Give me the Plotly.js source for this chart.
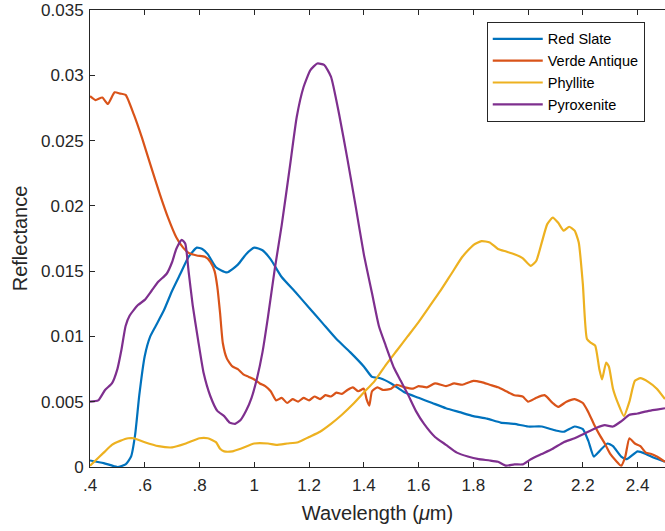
<!DOCTYPE html>
<html>
<head>
<meta charset="utf-8">
<script src="https://cdn.plot.ly/plotly-3.0.1.min.js"></script>
<style>
  html, body { margin: 0; padding: 0; background: #fff; }
  #chart { width: 665px; height: 531px; }
</style>
</head>
<body>
<div id="chart"></div>
<script>
// Reflectance spectra of four rock samples, wavelength in micrometres.
const seriesNames = ["Red Slate", "Verde Antique", "Phyllite", "Pyroxenite"];
const seriesColors = ["#0072BD", "#D95319", "#EDB120", "#7E2F8E"];

const wlRedSlate = [0.40,0.45,0.50,0.53,0.55,0.565,0.58,0.60,0.62,0.64,0.67,0.70,0.73,0.76,0.79,0.81,0.83,0.86,0.90,0.94,0.97,1.00,1.03,1.06,1.10,1.15,1.20,1.25,1.30,1.35,1.40,1.43,1.46,1.50,1.55,1.60,1.65,1.70,1.75,1.80,1.85,1.90,1.95,2.00,2.05,2.10,2.13,2.17,2.20,2.22,2.24,2.26,2.29,2.31,2.34,2.36,2.40,2.43,2.46,2.50];
const rRedSlate = [0.0005,0.0003,0.0000,0.0002,0.0008,0.0025,0.0055,0.0085,0.0100,0.0108,0.0120,0.0135,0.0148,0.0161,0.0168,0.0167,0.0163,0.0153,0.0149,0.0155,0.0163,0.0168,0.0166,0.0159,0.01455,0.0134,0.0122,0.0110,0.0098,0.0088,0.0077,0.0069,0.0068,0.0064,0.0057,0.0053,0.0049,0.0045,0.0042,0.0039,0.0037,0.0034,0.0033,0.0031,0.0031,0.0028,0.0027,0.0031,0.0029,0.0020,0.0008,0.0012,0.0018,0.0016,0.0008,0.0006,0.0012,0.0010,0.0007,0.0004];

const wlVerde = [0.40,0.42,0.445,0.465,0.49,0.51,0.53,0.56,0.59,0.62,0.655,0.685,0.715,0.74,0.76,0.79,0.82,0.84,0.855,0.865,0.875,0.885,0.90,0.92,0.94,0.96,0.98,1.00,1.02,1.04,1.06,1.08,1.10,1.12,1.14,1.16,1.18,1.20,1.22,1.24,1.26,1.28,1.30,1.32,1.34,1.36,1.38,1.40,1.41,1.42,1.43,1.45,1.47,1.50,1.52,1.55,1.58,1.60,1.63,1.66,1.70,1.73,1.76,1.80,1.83,1.86,1.89,1.92,1.95,1.98,2.00,2.03,2.06,2.09,2.11,2.14,2.17,2.20,2.22,2.24,2.26,2.28,2.30,2.32,2.34,2.355,2.37,2.39,2.41,2.43,2.45,2.47,2.50];
const rVerde = [0.0284,0.0281,0.0283,0.0278,0.0287,0.0286,0.0285,0.0270,0.0252,0.0232,0.0209,0.0191,0.0176,0.0168,0.0164,0.0162,0.0161,0.0157,0.0150,0.0138,0.0118,0.0095,0.0083,0.0077,0.0075,0.0071,0.0069,0.0067,0.0064,0.0062,0.0058,0.0051,0.0053,0.0049,0.0052,0.0050,0.0053,0.0051,0.0054,0.0052,0.0055,0.0054,0.0057,0.0056,0.0059,0.0061,0.0058,0.0060,0.0052,0.0047,0.0058,0.0061,0.0059,0.0060,0.0063,0.0061,0.0060,0.0062,0.0061,0.0064,0.0062,0.0064,0.0063,0.0066,0.0065,0.0063,0.0061,0.0058,0.0055,0.0054,0.0050,0.0053,0.0055,0.0049,0.0046,0.0050,0.0052,0.0049,0.0042,0.0033,0.0025,0.0018,0.0010,0.0005,0.0001,0.0008,0.0022,0.0018,0.0016,0.0011,0.0010,0.0008,0.0004];

const wlPhyllite = [0.40,0.42,0.45,0.48,0.51,0.54,0.56,0.60,0.65,0.70,0.75,0.80,0.83,0.86,0.875,0.89,0.92,0.95,1.00,1.05,1.08,1.12,1.16,1.20,1.24,1.28,1.32,1.36,1.40,1.44,1.48,1.52,1.56,1.60,1.64,1.68,1.72,1.76,1.80,1.83,1.86,1.89,1.92,1.95,1.98,2.01,2.03,2.05,2.07,2.09,2.11,2.13,2.15,2.17,2.185,2.20,2.215,2.23,2.245,2.26,2.27,2.285,2.295,2.31,2.33,2.35,2.37,2.39,2.41,2.44,2.47,2.50];
const rPhyllite = [0.0001,0.0005,0.0011,0.0017,0.0020,0.0022,0.0022,0.0019,0.0016,0.0015,0.0018,0.0022,0.0022,0.0019,0.0014,0.0012,0.0012,0.0014,0.0018,0.0018,0.0017,0.0018,0.0019,0.0023,0.0027,0.0033,0.0040,0.0048,0.0057,0.0066,0.0078,0.0089,0.0100,0.0111,0.0123,0.0135,0.0148,0.0161,0.0170,0.0173,0.0172,0.0167,0.0165,0.0163,0.0160,0.0154,0.0158,0.0172,0.0186,0.0191,0.0187,0.0181,0.0184,0.0181,0.0172,0.0140,0.0098,0.0095,0.0093,0.0075,0.0067,0.0080,0.0077,0.0060,0.0048,0.0039,0.0050,0.0066,0.0068,0.0065,0.0060,0.0052];

const wlPyroxenite = [0.40,0.43,0.455,0.48,0.50,0.515,0.53,0.545,0.575,0.60,0.625,0.65,0.68,0.70,0.715,0.735,0.748,0.76,0.775,0.795,0.815,0.84,0.865,0.89,0.91,0.93,0.95,0.97,0.99,1.01,1.03,1.05,1.075,1.10,1.13,1.155,1.18,1.205,1.23,1.255,1.28,1.31,1.34,1.37,1.40,1.43,1.455,1.48,1.51,1.535,1.56,1.59,1.62,1.66,1.70,1.74,1.78,1.82,1.86,1.89,1.92,1.95,1.98,2.01,2.05,2.09,2.13,2.17,2.21,2.25,2.28,2.31,2.34,2.37,2.40,2.44,2.47,2.50];
const rPyroxenite = [0.0050,0.0051,0.0059,0.0064,0.0075,0.0090,0.0108,0.0116,0.0124,0.0128,0.0135,0.0142,0.0148,0.0157,0.0167,0.0174,0.0171,0.0150,0.0124,0.0097,0.0072,0.0054,0.0043,0.0039,0.0034,0.0033,0.0036,0.0043,0.0053,0.0068,0.0088,0.0115,0.0152,0.0185,0.0230,0.0268,0.0291,0.0304,0.0309,0.0308,0.0299,0.0270,0.0236,0.0200,0.0163,0.0133,0.0108,0.0093,0.0076,0.0066,0.0056,0.0043,0.0033,0.0023,0.0017,0.0011,0.0008,0.0006,0.0005,0.0004,0.0001,0.0002,0.0002,0.0006,0.0010,0.0014,0.0019,0.0022,0.0026,0.0030,0.0032,0.0031,0.0035,0.0040,0.0041,0.0043,0.0044,0.0045];

const xTickVals = [0.4,0.6,0.8,1.0,1.2,1.4,1.6,1.8,2.0,2.2,2.4];
const xTickText = [".4",".6",".8","1","1.2","1.4","1.6","1.8","2","2.2","2.4"];
const yTickVals = [0,0.005,0.01,0.015,0.02,0.025,0.03,0.035];
const yTickText = ["0","0.005","0.01","0.015","0.02","0.025","0.03","0.035"];

const xs = [wlRedSlate, wlVerde, wlPhyllite, wlPyroxenite];
const ys = [rRedSlate, rVerde, rPhyllite, rPyroxenite];

const traces = seriesNames.map((name, i) => ({
  type: "scatter",
  mode: "lines",
  name: name,
  x: xs[i],
  y: ys[i],
  line: { color: seriesColors[i], width: 2.2, shape: "spline", smoothing: 0.5 },
  hoverinfo: "skip"
}));

const axisColor = "#262626";
const fontFamily = "'Liberation Sans', Arial, Helvetica, sans-serif";

const layout = {
  width: 665,
  height: 531,
  margin: { l: 90, r: 0, t: 10, b: 64 },
  paper_bgcolor: "#ffffff",
  plot_bgcolor: "#ffffff",
  font: { family: fontFamily, size: 17, color: axisColor },
  showlegend: true,
  legend: {
    x: 0.69, y: 0.974, xanchor: "left", yanchor: "top",
    bgcolor: "#ffffff", bordercolor: axisColor, borderwidth: 1,
    font: { family: fontFamily, size: 14.5, color: "#000000" },
    itemwidth: 50,
    tracegroupgap: 0
  },
  xaxis: {
    range: [0.4, 2.5],
    tickmode: "array", tickvals: xTickVals, ticktext: xTickText,
    ticks: "inside", ticklen: 5, tickcolor: axisColor,
    showline: true, linecolor: axisColor, linewidth: 1, mirror: "ticks",
    showgrid: false, zeroline: false,
    ticklabelstandoff: 3,
    tickfont: { size: 17, color: axisColor },
    title: { text: "Wavelength (<i>μ</i>m)", font: { size: 20, color: axisColor }, standoff: 11 }
  },
  yaxis: {
    range: [0, 0.035],
    tickmode: "array", tickvals: yTickVals, ticktext: yTickText,
    ticks: "inside", ticklen: 5, tickcolor: axisColor,
    showline: true, linecolor: axisColor, linewidth: 1,
    showgrid: false, zeroline: false,
    ticklabelstandoff: 2,
    tickfont: { size: 17, color: axisColor },
    title: { text: "Reflectance", font: { size: 20, color: axisColor }, standoff: 8 }
  }
};

Plotly.newPlot("chart", traces, layout, { staticPlot: true, displayModeBar: false });
</script>
</body>
</html>
